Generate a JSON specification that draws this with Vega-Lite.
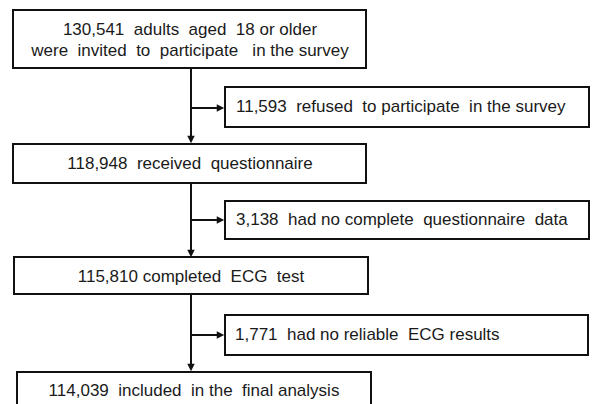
{
  "$schema": "https://vega.github.io/schema/vega-lite/v6.json",
  "width": 592,
  "height": 404,
  "padding": 0,
  "autosize": {"type": "fit", "contains": "padding"},
  "background": "white",
  "config": {"view": {"stroke": null}},
  "datasets": {
    "boxes": [
      {"id": "b1", "x": 13, "x2": 366, "y": 10, "y2": 68},
      {"id": "b2", "x": 13, "x2": 366, "y": 144, "y2": 183},
      {"id": "b3", "x": 14, "x2": 368, "y": 257, "y2": 294},
      {"id": "b4", "x": 17, "x2": 371, "y": 372, "y2": 414},
      {"id": "s1", "x": 225, "x2": 589, "y": 87, "y2": 127},
      {"id": "s2", "x": 225, "x2": 589, "y": 201, "y2": 239},
      {"id": "s3", "x": 225, "x2": 588, "y": 315, "y2": 355}
    ],
    "links": [
      {"x": 191, "x2": 191, "y": 68, "y2": 139},
      {"x": 191, "x2": 191, "y": 183, "y2": 253},
      {"x": 191, "x2": 191, "y": 294, "y2": 367},
      {"x": 191, "x2": 219, "y": 108, "y2": 108},
      {"x": 191, "x2": 219, "y": 220, "y2": 220},
      {"x": 191, "x2": 219, "y": 335, "y2": 335}
    ],
    "heads": [
      {"x": 191, "y": 139.5, "dir": "down"},
      {"x": 191, "y": 253.5, "dir": "down"},
      {"x": 191, "y": 367.5, "dir": "down"},
      {"x": 220.5, "y": 108, "dir": "right"},
      {"x": 220.5, "y": 220, "dir": "right"},
      {"x": 220.5, "y": 335, "dir": "right"}
    ],
    "labels": [
      {"kind": "main", "x": 190, "y": 30, "text": "130,541\u00a0 adults\u00a0 aged\u00a0 18 or older"},
      {"kind": "main", "x": 190, "y": 51, "text": "were\u00a0 invited\u00a0 to\u00a0 participate\u00a0\u00a0 in the survey"},
      {"kind": "main", "x": 190, "y": 164, "text": "118,948\u00a0 received\u00a0 questionnaire"},
      {"kind": "main", "x": 191, "y": 277, "text": "115,810 completed\u00a0 ECG\u00a0 test"},
      {"kind": "main", "x": 194, "y": 391, "text": "114,039\u00a0 included\u00a0 in the\u00a0 final analysis"},
      {"kind": "side", "x": 236, "y": 107, "text": "11,593\u00a0 refused\u00a0 to participate\u00a0 in the survey"},
      {"kind": "side", "x": 236, "y": 220, "text": "3,138\u00a0 had no complete\u00a0 questionnaire\u00a0 data"},
      {"kind": "side", "x": 235, "y": 335, "text": "1,771\u00a0 had no reliable\u00a0 ECG results"}
    ]
  },
  "layer": [
    {
      "data": {"name": "boxes"},
      "mark": {"type": "rect", "fill": "white", "stroke": "#111111", "strokeWidth": 2, "clip": true},
      "encoding": {
        "x": {"field": "x", "type": "quantitative", "scale": {"domain": [0, 592], "nice": false, "zero": false}, "axis": null},
        "x2": {"field": "x2"},
        "y": {"field": "y", "type": "quantitative", "scale": {"domain": [0, 404], "nice": false, "zero": false, "reverse": true}, "axis": null},
        "y2": {"field": "y2"}
      }
    },
    {
      "data": {"name": "links"},
      "mark": {"type": "rule", "color": "#111111", "strokeWidth": 2},
      "encoding": {
        "x": {"field": "x", "type": "quantitative"},
        "x2": {"field": "x2"},
        "y": {"field": "y", "type": "quantitative"},
        "y2": {"field": "y2"}
      }
    },
    {
      "data": {"name": "heads"},
      "mark": {"type": "point", "filled": true, "opacity": 1, "size": 56, "color": "#111111", "strokeWidth": 0},
      "encoding": {
        "x": {"field": "x", "type": "quantitative"},
        "y": {"field": "y", "type": "quantitative"},
        "shape": {"field": "dir", "type": "nominal", "scale": {"domain": ["down", "right"], "range": ["M-1,-1L1,-1L0,1Z", "M-1,-1L1,0L-1,1Z"]}, "legend": null}
      }
    },
    {
      "data": {"name": "labels"},
      "transform": [{"filter": "datum.kind === 'main'"}],
      "mark": {"type": "text", "align": "center", "baseline": "middle", "font": "Liberation Sans", "fontSize": 17, "color": "#1a1a1a"},
      "encoding": {
        "x": {"field": "x", "type": "quantitative"},
        "y": {"field": "y", "type": "quantitative"},
        "text": {"field": "text"}
      }
    },
    {
      "data": {"name": "labels"},
      "transform": [{"filter": "datum.kind === 'side'"}],
      "mark": {"type": "text", "align": "left", "baseline": "middle", "font": "Liberation Sans", "fontSize": 17, "color": "#1a1a1a"},
      "encoding": {
        "x": {"field": "x", "type": "quantitative"},
        "y": {"field": "y", "type": "quantitative"},
        "text": {"field": "text"}
      }
    }
  ]
}
